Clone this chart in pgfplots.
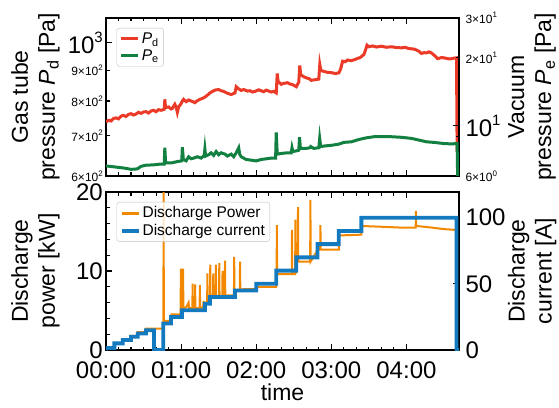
\documentclass[border=0pt]{standalone}
\usepackage{fontspec}
\setmainfont{Liberation Sans}
\usepackage{pgfplots}
\pgfplotsset{compat=1.18}

\definecolor{cRed}{RGB}{235,58,40}
\definecolor{cGreen}{RGB}{18,128,64}
\definecolor{cOrange}{RGB}{242,135,0}
\definecolor{cBlue}{RGB}{20,122,192}

\newcommand\tickfont{\fontsize{24}{28}\selectfont}
\newcommand\labfont{\fontsize{23}{27}\selectfont}
\newcommand\bigexp[1]{10\raisebox{0.48em}{\fontsize{15}{15}\selectfont #1}}
\newcommand\smexp[2]{#1×10\raisebox{0.45em}{\fontsize{8}{8}\selectfont #2}}

\pgfplotsset{
  panel/.style={
    scale only axis, width=353pt, height=158pt,
    anchor=south west,
    xmin=0, xmax=282,
    xtick={0,60,120,180,240}, minor x tick num=5,
    axis line style={line width=1.6pt},
    every tick/.style={black, line width=1.1pt},
    major tick length=6pt, minor tick length=3.5pt,
    tick align=inside,
    tick label style={font=\tickfont},
    xticklabel style={inner ysep=1pt, yshift=-11pt},
    label style={font=\labfont, align=center},
    /pgf/number format/assume math mode=true,
    legend style={at={(0.03,0.937)}, anchor=north west, draw=black!25,
      rounded corners=3pt, fill=white, fill opacity=0.8, text opacity=1,
      font=\fontsize{15.5}{18}\selectfont, inner xsep=3pt, inner ysep=2.5pt,
      row sep=1pt, cells={anchor=west}},
    legend image code/.code={\draw[#1] (0pt,0pt) -- (17pt,0pt);},
  },
  leftlab/.style={yticklabel style={inner xsep=3pt, inner ysep=1pt},
    ylabel style={at={(axis description cs:-0.2,0.5)}, anchor=center, rotate=0}},
  rightlab/.style={yticklabel style={inner ysep=1pt, xshift=3pt},
    ylabel style={at={(axis description cs:1.207,0.5)}, anchor=center, rotate=0}},
}

\begin{document}
\begin{tikzpicture}
\useasboundingbox (0,0) rectangle (559pt,407pt);

% ---- top panel: pressures ----
\begin{axis}[panel, leftlab, at={(106pt,231pt)},
    ymode=log, ymin=600, ymax=1100, ytick pos=left,
    ytick={1000}, yticklabels={\bigexp{3}}, minor y tick num=0,
    extra y ticks={600,700,800,900},
    extra y tick labels={\smexp{6}{2},\smexp{7}{2},\smexp{8}{2},\smexp{9}{2}},
    extra y tick style={major tick length=3.5pt, tick label style={font=\fontsize{12}{14}\selectfont}},
    xticklabel=\empty,
    ylabel={Gas tube\\pressure \textit{P}\textsubscript{d} [Pa]},
  ]
  \addplot[cRed, line width=3pt] table {
    t   p
    0   738
    2   743
    4   741
    6   748
    8   750
    10  747
    12  755
    14  757
    16  754
    18  760
    20  762
    22  758
    24  761
    26  766
    28  763
    30  767
    32  768
    34  764
    36  770
    38  772
    40  768
    42  774
    44  772
    46.5 775
    47  805
    47.6 780
    50  782
    52  776
    53  778
    55  790
    56  782
    57  766
    58  782
    60  792
    61  800
    62  805
    64  798
    66  803
    68  800
    70  797
    71  795
    73  801
    75  805
    77  808
    79  812
    81  818
    83  825
    85  830
    87  834
    90  836
    92  832
    94  830
    97  824
    100 820
    103 825
    104 845
    106 838
    108 833
    110 836
    113 831
    115 832
    117 828
    119 830
    122 835
    124 832
    126 829
    128 834
    130 831
    132 828
    134 830
    136 825
    136.8 889
    137.5 862
    140 853
    142 856
    145 858
    147 854
    149 852
    152 845
    154 860
    154.8 917
    155.5 885
    158 878
    160 874
    162 872
    164 866
    167 868
    170 870
    170.8 920
    171.6 900
    174 896
    177 893
    180 892
    183 889
    186 891
    187.5 905
    189 932
    191 930
    193 936
    196 934
    199 938
    201 942
    203 945
    206 956
    207.5 975
    208.5 991
    210 985
    213 988
    216 984
    220 987
    224 983
    228 985
    232 982
    236 981
    239 983
    242 978
    245 977
    247 975
    250 968
    252 960
    254 963
    256 962
    258 966
    260 962
    263 950
    265 941
    268 945
    270 944
    273 941
    275 940
    278 943
    280 944
    280.5 660
    282 655
  };
\end{axis}

\begin{axis}[panel, rightlab, at={(106pt,231pt)},
    axis x line=none, axis y line*=right,
    ymode=log, ymin=6, ymax=30,
    ytick={10}, yticklabels={\bigexp{1}}, minor ytick={7,8,9},
    extra y ticks={6,20,30},
    extra y tick labels={\smexp{6}{0},\smexp{2}{1},\smexp{3}{1}},
    extra y tick style={major tick length=3.5pt, tick label style={font=\fontsize{12}{14}\selectfont}},
    ylabel={Vacuum\\pressure \textit{P}\textsubscript{e} [Pa]},
  ]
  \addlegendimage{cRed, line width=3pt}
  \addlegendentry{\textit{P}\textsubscript{d}}
  \addplot[cGreen, line width=3pt] table {
    t   p
    0   6.65
    5   6.6
    10  6.55
    15  6.5
    20  6.42
    25  6.45
    28  6.62
    32  6.7
    38  6.72
    44  6.78
    46.5 6.78
    47  8.0
    47.6 6.85
    52  6.85
    57  6.95
    60.5 7.0
    61  8.05
    61.8 7.1
    64  7.0
    66  7.3
    68  7.15
    70  7.2
    73  7.3
    76  7.2
    78.5 7.4
    79  7.9
    79.6 7.35
    82  7.45
    84  7.6
    86  7.4
    88  7.7
    90  7.45
    92  7.6
    95  7.5
    97  7.35
    100 7.5
    102 7.3
    104 7.6
    106 8.0
    106.8 7.5
    108 7.3
    112 7.1
    116 7.05
    120 7.0
    124 7.1
    128 7.15
    132 7.2
    135.5 7.2
    136 9.35
    136.8 7.5
    140 7.55
    145 7.6
    148 7.6
    148.6 8.0
    149.3 7.7
    152 7.75
    154 7.8
    154.6 8.9
    155.3 7.95
    160 7.95
    163 8.0
    163.5 8.1
    166 7.95
    170 8.0
    170.7 8.8
    171.5 8.1
    175 8.15
    180 8.2
    186 8.3
    190 8.45
    196 8.5
    202 8.7
    208 8.85
    214 8.95
    220 8.95
    228 8.95
    236 8.9
    244 8.8
    250 8.65
    256 8.5
    262 8.45
    270 8.35
    276 8.32
    280.5 8.35
    281 5.5
    282 5.5
  };
  \addlegendentry{\textit{P}\textsubscript{e}}
\end{axis}

% ---- bottom panel: discharge ----
\begin{axis}[panel, leftlab, at={(106pt,57pt)},
    ymin=0, ymax=20, ytick={0,10,20}, minor y tick num=4, ytick pos=left,
    xticklabels={00:00,01:00,02:00,03:00,04:00},
    xlabel={time},
    ylabel={Discharge\\power [kW]},
  ]
  \addplot[cOrange, line width=2pt] table {
    t   P
    0   0.2
    6.6 0.2
    6.8 0.9
    13.3 0.9
    13.5 1.35
    19.9 1.35
    20.1 1.8
    25.3 1.8
    25.5 2.25
    31.9 2.25
    32.1 2.7
    45.6 2.7
    45.9 3.7
    46  24
    46.2 3.7
    52  3.7
    52.3 4.5
    59.6 4.5
    59.8 10.3
    60.0 4.5
    60.6 5.3
    61.4 5.3
    61.6 10.3
    61.8 5.3
    64  5.4
    66  6.0
    66.3 5.3
    69  5.3
    69.2 8.4
    69.4 5.3
    71  5.3
    71.2 8.3
    71.4 5.3
    74.8 5.3
    75  8.2
    75.2 5.3
    77.6 5.4
    78  6.2
    78.4 5.3
    79  5.3
    79.3 6.0
    80.8 6.0
    81  9.7
    81.2 6.0
    82.8 6.0
    83.1 6.8
    83.3 10.8
    83.5 6.8
    85.5 6.8
    85.7 9.7
    85.9 6.8
    87.6 6.8
    87.8 10.8
    88.0 6.8
    90.3 6.8
    90.5 11.0
    90.7 6.8
    92.9 6.8
    93.1 10.0
    93.3 6.8
    94.9 6.8
    95.1 11.3
    95.3 6.8
    97  6.9
    102.2 6.9
    102.4 11.8
    102.6 7.0
    103.3 7.6
    106.9 7.6
    107.1 11.2
    107.3 7.6
    110 7.7
    120 7.7
    120.3 8.0
    136 8.0
    136.3 9.6
    136.5 15.8
    136.7 9.6
    148.4 9.6
    148.6 15.2
    148.8 9.6
    151.1 9.6
    151.3 16.5
    151.5 9.6
    152.3 11.2
    153.2 11.2
    153.4 18.1
    153.6 11.2
    163.1 11.2
    163.3 19.0
    163.5 11.2
    169.3 12.7
    171.1 12.7
    171.3 15.8
    171.5 12.7
    186 12.7
    186.3 14.5
    204 14.6
    204.3 15.7
    220 15.6
    235 15.5
    247.4 15.5
    247.6 17.6
    247.8 15.7
    260 15.5
    270 15.3
    279.8 15.2
    280.1 0
    282 0
  };
\end{axis}

\begin{axis}[panel, rightlab, at={(106pt,57pt)},
    axis x line=none, axis y line*=right,
    ymin=0, ymax=119.4, ytick={0,50,100}, minor y tick num=4,
    ylabel={Discharge\\current [A]},
  ]
  \addlegendimage{cOrange, line width=3pt}
  \addlegendentry{Discharge Power}
  \addplot[cBlue, line width=3.8pt] table {
    t   I
    0   0
    0.5 1.5
    6.7 1.5
    6.7 5
    13.4 5
    13.4 7.5
    20  7.5
    20  10
    25.4 10
    25.4 12.5
    32  12.5
    32  15
    38.3 15
    38.3 0
    45.8 0
    45.8 20
    52  20
    52  25
    60.6 25
    60.6 30
    79  30
    79  35
    83  35
    83  40
    103 40
    103 45
    120 45
    120 50
    136 50
    136 60
    152 60
    152 70
    169 70
    169 80
    186 80
    186 90
    204 90
    204 100
    280 100
    280 0
    282 0
  };
  \addlegendentry{Discharge current}
\end{axis}
\end{tikzpicture}
\end{document}
